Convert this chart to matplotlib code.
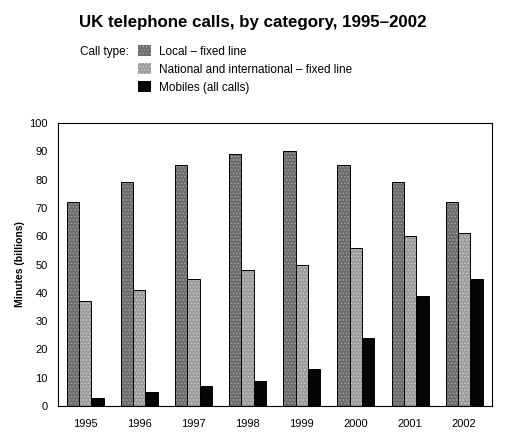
import numpy as np
import matplotlib
matplotlib.use("Agg")
import matplotlib.pyplot as plt

plt.rcParams["font.family"] = ["Liberation Sans", "DejaVu Sans"]
plt.rcParams["hatch.linewidth"] = 0.6

years = ["1995", "1996", "1997", "1998", "1999", "2000", "2001", "2002"]
local_fixed = [72, 79, 85, 89, 90, 85, 79, 72]
national_fixed = [37, 41, 45, 48, 50, 56, 60, 61]
mobiles = [3, 5, 7, 9, 13, 24, 39, 45]

series_names = ["Local \u2013 fixed line",
                "National and international \u2013 fixed line",
                "Mobiles (all calls)"]

fig = plt.figure(figsize=(5.3, 4.45), dpi=100)
ax = fig.add_axes([0.1085, 0.0876, 0.8195, 0.636])

x = np.arange(len(years))
w = 0.228
styles = [
    dict(color="#6c6c6c", edgecolor="#a6a6a6", hatch="....."),
    dict(color="#9c9c9c", edgecolor="#d0d0d0", hatch="....."),
    dict(color="#050505", edgecolor="#050505", hatch=None),
]
handles = []
for i, (vals, st) in enumerate(zip([local_fixed, national_fixed, mobiles], styles)):
    pos = x + (i - 1) * w
    b = ax.bar(pos, vals, width=w, color=st["color"], edgecolor=st["edgecolor"],
               hatch=st["hatch"], linewidth=0, label=series_names[i])
    ax.bar(pos, vals, width=w, facecolor="none", edgecolor="black", linewidth=0.7)
    handles.append(b)

ax.set_xlim(-0.51, 7.51)
ax.set_ylim(0, 100)
ax.set_yticks(range(0, 101, 10))
ax.set_xticks(x)
ax.set_xticklabels(years)
ax.tick_params(axis="y", length=0, labelsize=8, pad=7)
ax.tick_params(axis="x", length=0, labelsize=8, pad=9)
ax.set_ylabel("Minutes (billions)", fontsize=7.5, fontweight="bold", labelpad=3)
for sp in ax.spines.values():
    sp.set_linewidth(0.8)

fig.text(0.476, 0.95, "UK telephone calls, by category, 1995\u20132002",
         ha="center", va="center", fontsize=12.2, fontweight="bold")
fig.text(80 / 530, 1 - 52 / 445, "Call type:", ha="left", va="center", fontsize=8.5)
fig.legend(handles=handles, labels=series_names, loc="upper left",
           bbox_to_anchor=(138 / 530, 1 - 45 / 445), frameon=False,
           fontsize=8.5, handlelength=1.1, handleheight=1.1,
           handletextpad=0.7, labelspacing=0.45, borderaxespad=0, borderpad=0)

fig.savefig("out.png", dpi=100)
